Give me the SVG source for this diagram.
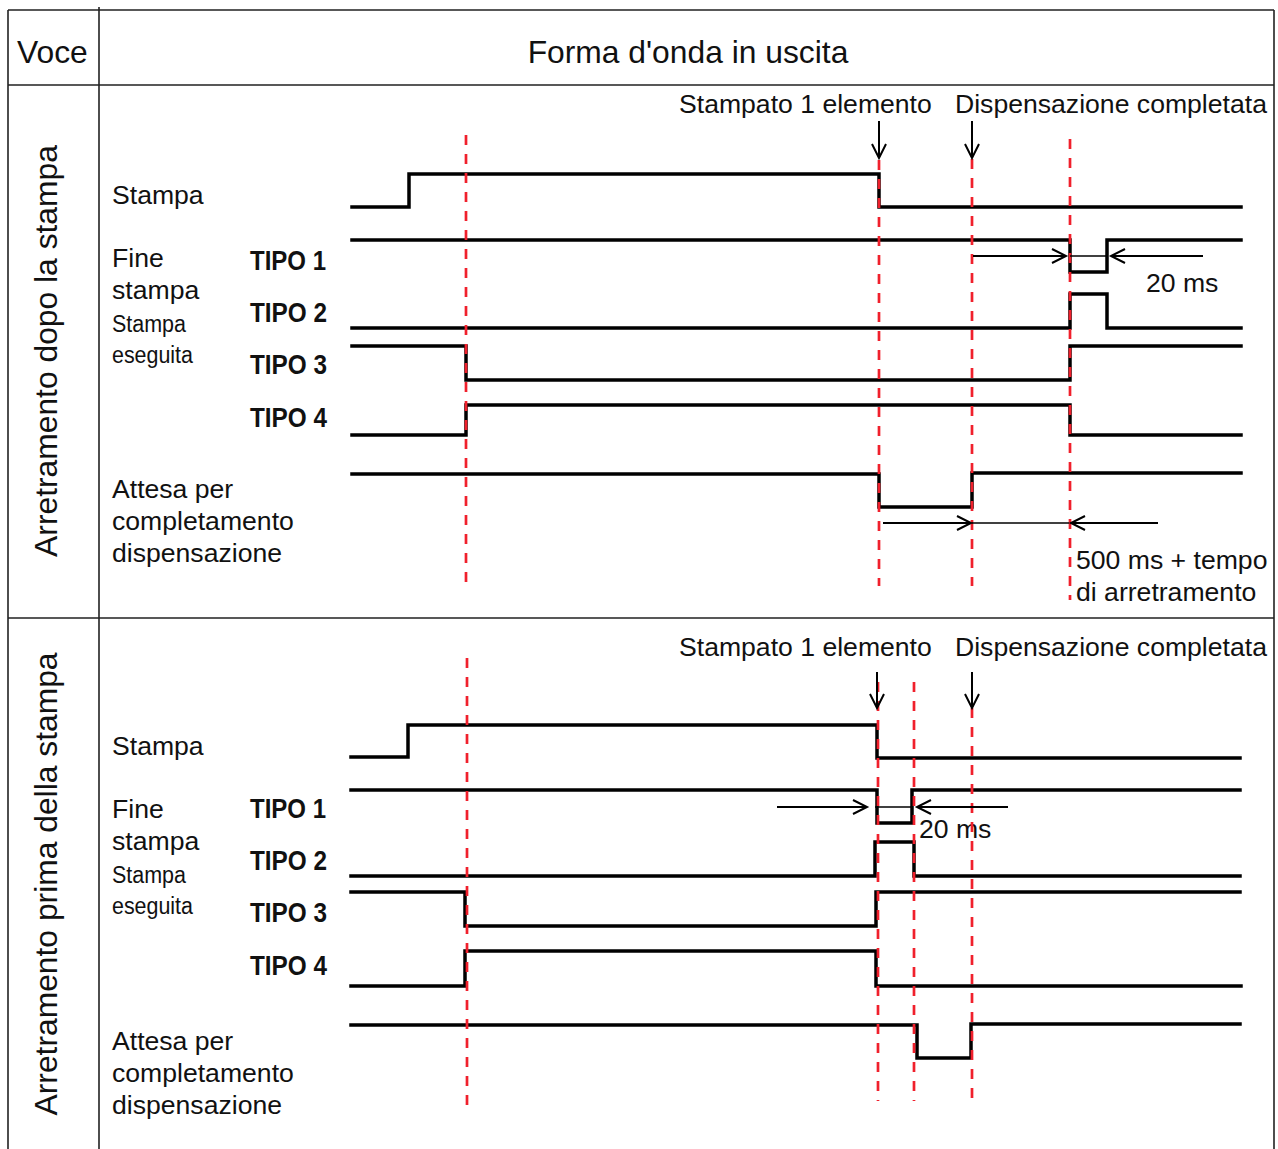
<svg xmlns="http://www.w3.org/2000/svg" width="1278" height="1149" viewBox="0 0 1278 1149">
<defs>
<style>
.t{font-family:"Liberation Sans",Arial,sans-serif;font-size:26.6px;fill:#111}
.h{font-family:"Liberation Sans",Arial,sans-serif;font-size:31.8px;fill:#111}
.b{font-family:"Liberation Sans",Arial,sans-serif;font-size:27px;font-weight:bold;fill:#111}
.s{font-family:"Liberation Sans",Arial,sans-serif;font-size:23px;fill:#111}
.grid{stroke:#222;stroke-width:1.6;fill:none}
.sig{stroke:#000;stroke-width:3.5;fill:none;stroke-linejoin:miter;stroke-linecap:square}
.red{stroke:#f0202c;stroke-width:2.7;stroke-dasharray:10 9;fill:none}
.arr{stroke:#000;stroke-width:2;fill:none}
.thin{stroke:#000;stroke-width:1.4;fill:none}
</style>
<marker id="ah" markerUnits="userSpaceOnUse" markerWidth="18" markerHeight="18" viewBox="0 0 18 18" refX="15" refY="8" orient="auto">
<path d="M1,1 L15,8 L1,15" fill="none" stroke="#000" stroke-width="2"/>
</marker>
</defs>
<rect width="1278" height="1149" fill="#fff"/>

<g id="table">
<path class="grid" d="M8,10 H1274 M8,85 H1274 M8,618 H1274 M8,10 V1149 M1274,10 V1149 M99,7 V1149"/>
<text class="h" x="17" y="63">Voce</text>
<text class="h" x="688" y="63" text-anchor="middle">Forma d'onda in uscita</text>
</g>

<g id="row-after">
<text class="h" transform="translate(57,351) rotate(-90)" text-anchor="middle">Arretramento dopo la stampa</text>
<g id="labels-after">
<text class="t" x="112" y="204">Stampa</text>
<text class="t" x="112" y="267">Fine</text>
<text class="t" x="112" y="299">stampa</text>
<text class="s" x="112" y="332" textLength="74" lengthAdjust="spacingAndGlyphs">Stampa</text>
<text class="s" x="112" y="363" textLength="81" lengthAdjust="spacingAndGlyphs">eseguita</text>
<text class="b" x="250" y="270" textLength="76" lengthAdjust="spacingAndGlyphs">TIPO 1</text>
<text class="b" x="250" y="322" textLength="77" lengthAdjust="spacingAndGlyphs">TIPO 2</text>
<text class="b" x="250" y="374" textLength="77" lengthAdjust="spacingAndGlyphs">TIPO 3</text>
<text class="b" x="250" y="427" textLength="77" lengthAdjust="spacingAndGlyphs">TIPO 4</text>
<text class="t" x="112" y="498">Attesa per</text>
<text class="t" x="112" y="530">completamento</text>
<text class="t" x="112" y="562">dispensazione</text>
<text class="t" x="679" y="113">Stampato 1 elemento</text>
<text class="t" x="955" y="113">Dispensazione completata</text>
<text class="t" x="1146" y="292">20 ms</text>
<text class="t" x="1076" y="569">500 ms + tempo</text>
<text class="t" x="1076" y="601">di arretramento</text>
</g>
<g id="signals-after">
<path id="s1-stampa" class="sig" d="M352,207 H409 V174 H879 V207 H1241"/>
<path id="s1-tipo1" class="sig" d="M352,240 H1070 V272 H1107 V240 H1241"/>
<path id="s1-tipo2" class="sig" d="M352,328 H1070 V294 H1107 V328 H1241"/>
<path id="s1-tipo3" class="sig" d="M352,346 H466 V380 H1070 V346 H1241"/>
<path id="s1-tipo4" class="sig" d="M352,435 H466 V405 H1070 V435 H1241"/>
<path id="s1-attesa" class="sig" d="M352,474 H879 V507 H972 V473 H1241"/>
</g>
<g id="markers-after">
<path class="red" d="M466,135 V586 M879,160 V586 M972,159 V586 M1070,139 V600"/>
</g>
</g>

<g id="row-before">
<text class="h" transform="translate(57,884) rotate(-90)" text-anchor="middle">Arretramento prima della stampa</text>
<g id="labels-before">
<text class="t" x="112" y="755">Stampa</text>
<text class="t" x="112" y="818">Fine</text>
<text class="t" x="112" y="850">stampa</text>
<text class="s" x="112" y="883" textLength="74" lengthAdjust="spacingAndGlyphs">Stampa</text>
<text class="s" x="112" y="914" textLength="81" lengthAdjust="spacingAndGlyphs">eseguita</text>
<text class="b" x="250" y="818" textLength="76" lengthAdjust="spacingAndGlyphs">TIPO 1</text>
<text class="b" x="250" y="870" textLength="77" lengthAdjust="spacingAndGlyphs">TIPO 2</text>
<text class="b" x="250" y="922" textLength="77" lengthAdjust="spacingAndGlyphs">TIPO 3</text>
<text class="b" x="250" y="975" textLength="77" lengthAdjust="spacingAndGlyphs">TIPO 4</text>
<text class="t" x="112" y="1050">Attesa per</text>
<text class="t" x="112" y="1082">completamento</text>
<text class="t" x="112" y="1114">dispensazione</text>
<text class="t" x="679" y="656">Stampato 1 elemento</text>
<text class="t" x="955" y="656">Dispensazione completata</text>
<text class="t" x="919" y="838">20 ms</text>
</g>
<g id="signals-before">
<path id="s2-stampa" class="sig" d="M351,757 H408 V725 H877 V758 H1240"/>
<path id="s2-tipo1" class="sig" d="M351,790 H877 V823 H912 V790 H1240"/>
<path id="s2-tipo2" class="sig" d="M351,876 H875 V842 H914 V876 H1240"/>
<path id="s2-tipo3" class="sig" d="M351,892 H465 V926 H876 V892 H1240"/>
<path id="s2-tipo4" class="sig" d="M351,986 H465 V951 H876 V986 H1241"/>
<path id="s2-attesa" class="sig" d="M351,1025 H917 V1058 H971 V1024 H1240"/>
</g>
<g id="markers-before">
<path class="red" d="M467,658 V1108 M878,682 V1101 M914,682 V1101 M972,708 V1101"/>
</g>
</g>

<g id="connectors">
<line class="arr" x1="879" y1="121" x2="879" y2="158" marker-end="url(#ah)"/>
<line class="arr" x1="972" y1="121" x2="972" y2="158" marker-end="url(#ah)"/>
<line class="arr" x1="973" y1="256" x2="1066" y2="256" marker-end="url(#ah)"/>
<line class="thin" x1="1070" y1="256" x2="1107" y2="256"/>
<line class="arr" x1="1203" y1="256" x2="1111" y2="256" marker-end="url(#ah)"/>
<line class="arr" x1="883" y1="523" x2="971" y2="523" marker-end="url(#ah)"/>
<line class="thin" x1="972" y1="523" x2="1069" y2="523"/>
<line class="arr" x1="1158" y1="523" x2="1071" y2="523" marker-end="url(#ah)"/>
<line class="arr" x1="877" y1="672" x2="877" y2="708" marker-end="url(#ah)"/>
<line class="arr" x1="972" y1="672" x2="972" y2="708" marker-end="url(#ah)"/>
<line class="arr" x1="777" y1="807" x2="867" y2="807" marker-end="url(#ah)"/>
<line class="thin" x1="875" y1="807" x2="912" y2="807"/>
<line class="arr" x1="1008" y1="807" x2="917" y2="807" marker-end="url(#ah)"/>
</g>
</svg>
